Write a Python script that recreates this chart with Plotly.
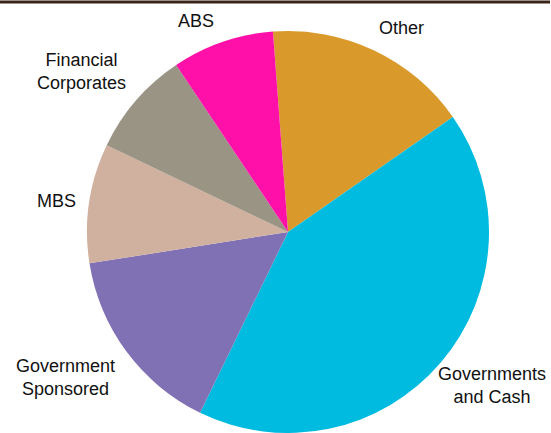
import plotly.graph_objects as go

# Data
categories = ["Other", "Governments and Cash", "Government Sponsored", "MBS", "Financial Corporates", "ABS"]
values = [16.5, 41.9, 15.3, 9.6, 8.5, 8.2]
label_texts = ["Other", "Governments<br>and Cash", "Government<br>Sponsored", "MBS", "Financial<br>Corporates", "ABS"]
colors = ["#D99A2B", "#00BBE0", "#8070B4", "#D0B09E", "#9A9484", "#FF10A8"]

W, H = 551, 433
MT, MB = 31, 0
PH = H - MT - MB

def px_x(x):
    return x / W

def px_y(y):
    return (H - MB - y) / PH

# label centre positions in pixels
label_pos = [(401.5, 27.5), (491.5, 385.5), (65, 377), (56, 201), (81, 71.5), (195.5, 21)]

cx = 288
r = PH / 2

fig = go.Figure(go.Pie(
    labels=categories,
    values=values,
    sort=False,
    direction="clockwise",
    rotation=-4.3,
    marker=dict(colors=colors, line=dict(width=0)),
    textinfo="none",
    hoverinfo="label+percent",
    showlegend=False,
    domain=dict(x=[(cx - r) / W, (cx + r) / W], y=[0, 1]),
))

annotations = []
for txt, (x, y) in zip(label_texts, label_pos):
    annotations.append(dict(
        text=txt, x=px_x(x), y=px_y(y), xref="paper", yref="paper",
        xanchor="center", yanchor="middle", showarrow=False, align="center",
        font=dict(family="Liberation Sans, Arial, sans-serif", size=18, color="#111111"),
    ))

fig.update_layout(
    width=W, height=H,
    margin=dict(l=0, r=0, t=MT, b=MB, autoexpand=False),
    paper_bgcolor="white",
    plot_bgcolor="white",
    annotations=annotations,
    shapes=[dict(type="line", xref="paper", yref="paper",
                 x0=0, x1=px_x(550), y0=px_y(2), y1=px_y(2),
                 line=dict(color="#3B2317", width=3))],
)

fig.write_html("out.html", config={"displayModeBar": False},
               post_script="document.body.style.margin='0';document.body.style.overflow='hidden';")
